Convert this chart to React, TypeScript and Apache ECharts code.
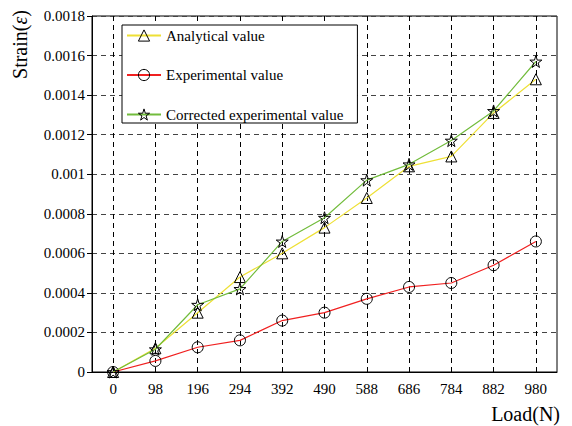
import React, { useEffect, useRef } from "react";
import * as echarts from "echarts";

const loads = ["0", "98", "196", "294", "392", "490", "588", "686", "784", "882", "980"];
const analytical = [0, 0.00012, 0.0003, 0.00048, 0.0006, 0.00073, 0.00088, 0.00104, 0.00109, 0.00131, 0.00148];
const experimental = [0, 0.000056, 0.000125, 0.00016, 0.00026, 0.0003, 0.00037, 0.00043, 0.00045, 0.00054, 0.00066];
const corrected = [0, 0.000115, 0.00034, 0.00042, 0.00066, 0.00078, 0.00097, 0.00105, 0.00117, 0.00132, 0.00157];
const yTicks = ["0", "0.0002", "0.0004", "0.0006", "0.0008", "0.001", "0.0012", "0.0014", "0.0016", "0.0018"];

const FONT = "Liberation Serif";
const STAR = "path://M50,0 L61,35 L98,35 L68,57 L79,91 L50,70 L21,91 L32,57 L2,35 L39,35 Z";

export default function App() {
  const ref = useRef<HTMLDivElement>(null);
  useEffect(() => {
    const chart = echarts.init(ref.current!, null, { renderer: "svg" });
    const hollow = { color: "rgba(255,255,255,0)", borderColor: "#000", borderWidth: 1 };
    chart.setOption({
      animation: false,
      textStyle: { fontFamily: FONT },
      grid: {
        left: 92, right: 15, top: 16, bottom: 54,
        containLabel: false,
        outerBoundsMode: "none",
        show: true, borderColor: "#000", borderWidth: 1, backgroundColor: "#fff",
      },
      legend: {
        orient: "vertical",
        left: 122, top: 25,
        backgroundColor: "#fff",
        borderColor: "#000",
        borderWidth: 1,
        borderRadius: 0,
        padding: [3, 14, 1, 4],
        itemWidth: 34,
        itemHeight: 14,
        itemGap: 24.5,
        itemStyle: { borderWidth: 1, borderColor: "#000" },
        textStyle: { fontFamily: FONT, fontSize: 15, color: "#000" },
        data: ["Analytical value", "Experimental value", "Corrected experimental value"],
      },
      xAxis: {
        type: "category",
        data: loads,
        boundaryGap: true,
        name: "Load(N)",
        nameLocation: "end",
        nameGap: 3,
        nameTextStyle: { fontFamily: FONT, fontSize: 20, color: "#000", align: "right", verticalAlign: "top", padding: [32, 0, 0, 0] },
        axisLine: { lineStyle: { color: "#000" } },
        axisTick: { alignWithLabel: true, length: 5, lineStyle: { color: "#000" } },
        axisLabel: { fontFamily: FONT, fontSize: 15, color: "#000", margin: 9 },
        splitLine: { show: true, alignWithLabel: true, lineStyle: { color: "#000", type: [5, 4], width: 1 } },
      },
      yAxis: {
        type: "value",
        min: 0,
        max: 0.0018,
        interval: 0.0002,
        name: "Strain({e|ε})",
        nameLocation: "end",
        nameRotate: 90,
        nameGap: 6,
        nameTextStyle: {
          fontFamily: FONT, fontSize: 20, color: "#000", align: "right", verticalAlign: "bottom",
          padding: [0, 0, 62, 0],
          rich: { e: { fontFamily: FONT, fontSize: 20, fontStyle: "italic", color: "#000" } },
        },
        axisLine: { show: true, lineStyle: { color: "#000" } },
        axisTick: { show: true, length: 5, lineStyle: { color: "#000" } },
        axisLabel: {
          fontFamily: FONT, fontSize: 15, color: "#000", margin: 7,
          formatter: (v: number) => {
            const i = Math.round(v / 0.0002);
            return yTicks[i] ?? "";
          },
        },
        splitLine: { show: true, lineStyle: { color: "#444", type: [5, 4], width: 1 } },
      },
      series: [
        {
          name: "Analytical value",
          type: "line",
          data: analytical,
          symbol: "triangle",
          symbolSize: 11,
          showAllSymbol: true,
          lineStyle: { color: "#eee035", width: 1.2 },
          itemStyle: hollow,
          z: 3,
        },
        {
          name: "Experimental value",
          type: "line",
          data: experimental,
          symbol: "circle",
          symbolSize: 11,
          showAllSymbol: true,
          lineStyle: { color: "#f02020", width: 1.2 },
          itemStyle: hollow,
          z: 3,
        },
        {
          name: "Corrected experimental value",
          type: "line",
          data: corrected,
          symbol: STAR,
          symbolSize: 12,
          showAllSymbol: true,
          lineStyle: { color: "#72bc3c", width: 1.2 },
          itemStyle: hollow,
          z: 4,
        },
      ],
    });
    return () => chart.dispose();
  }, []);
  return <div ref={ref} style={{ width: 572, height: 426, position: "absolute", left: 0, top: 0 }} />;
}
